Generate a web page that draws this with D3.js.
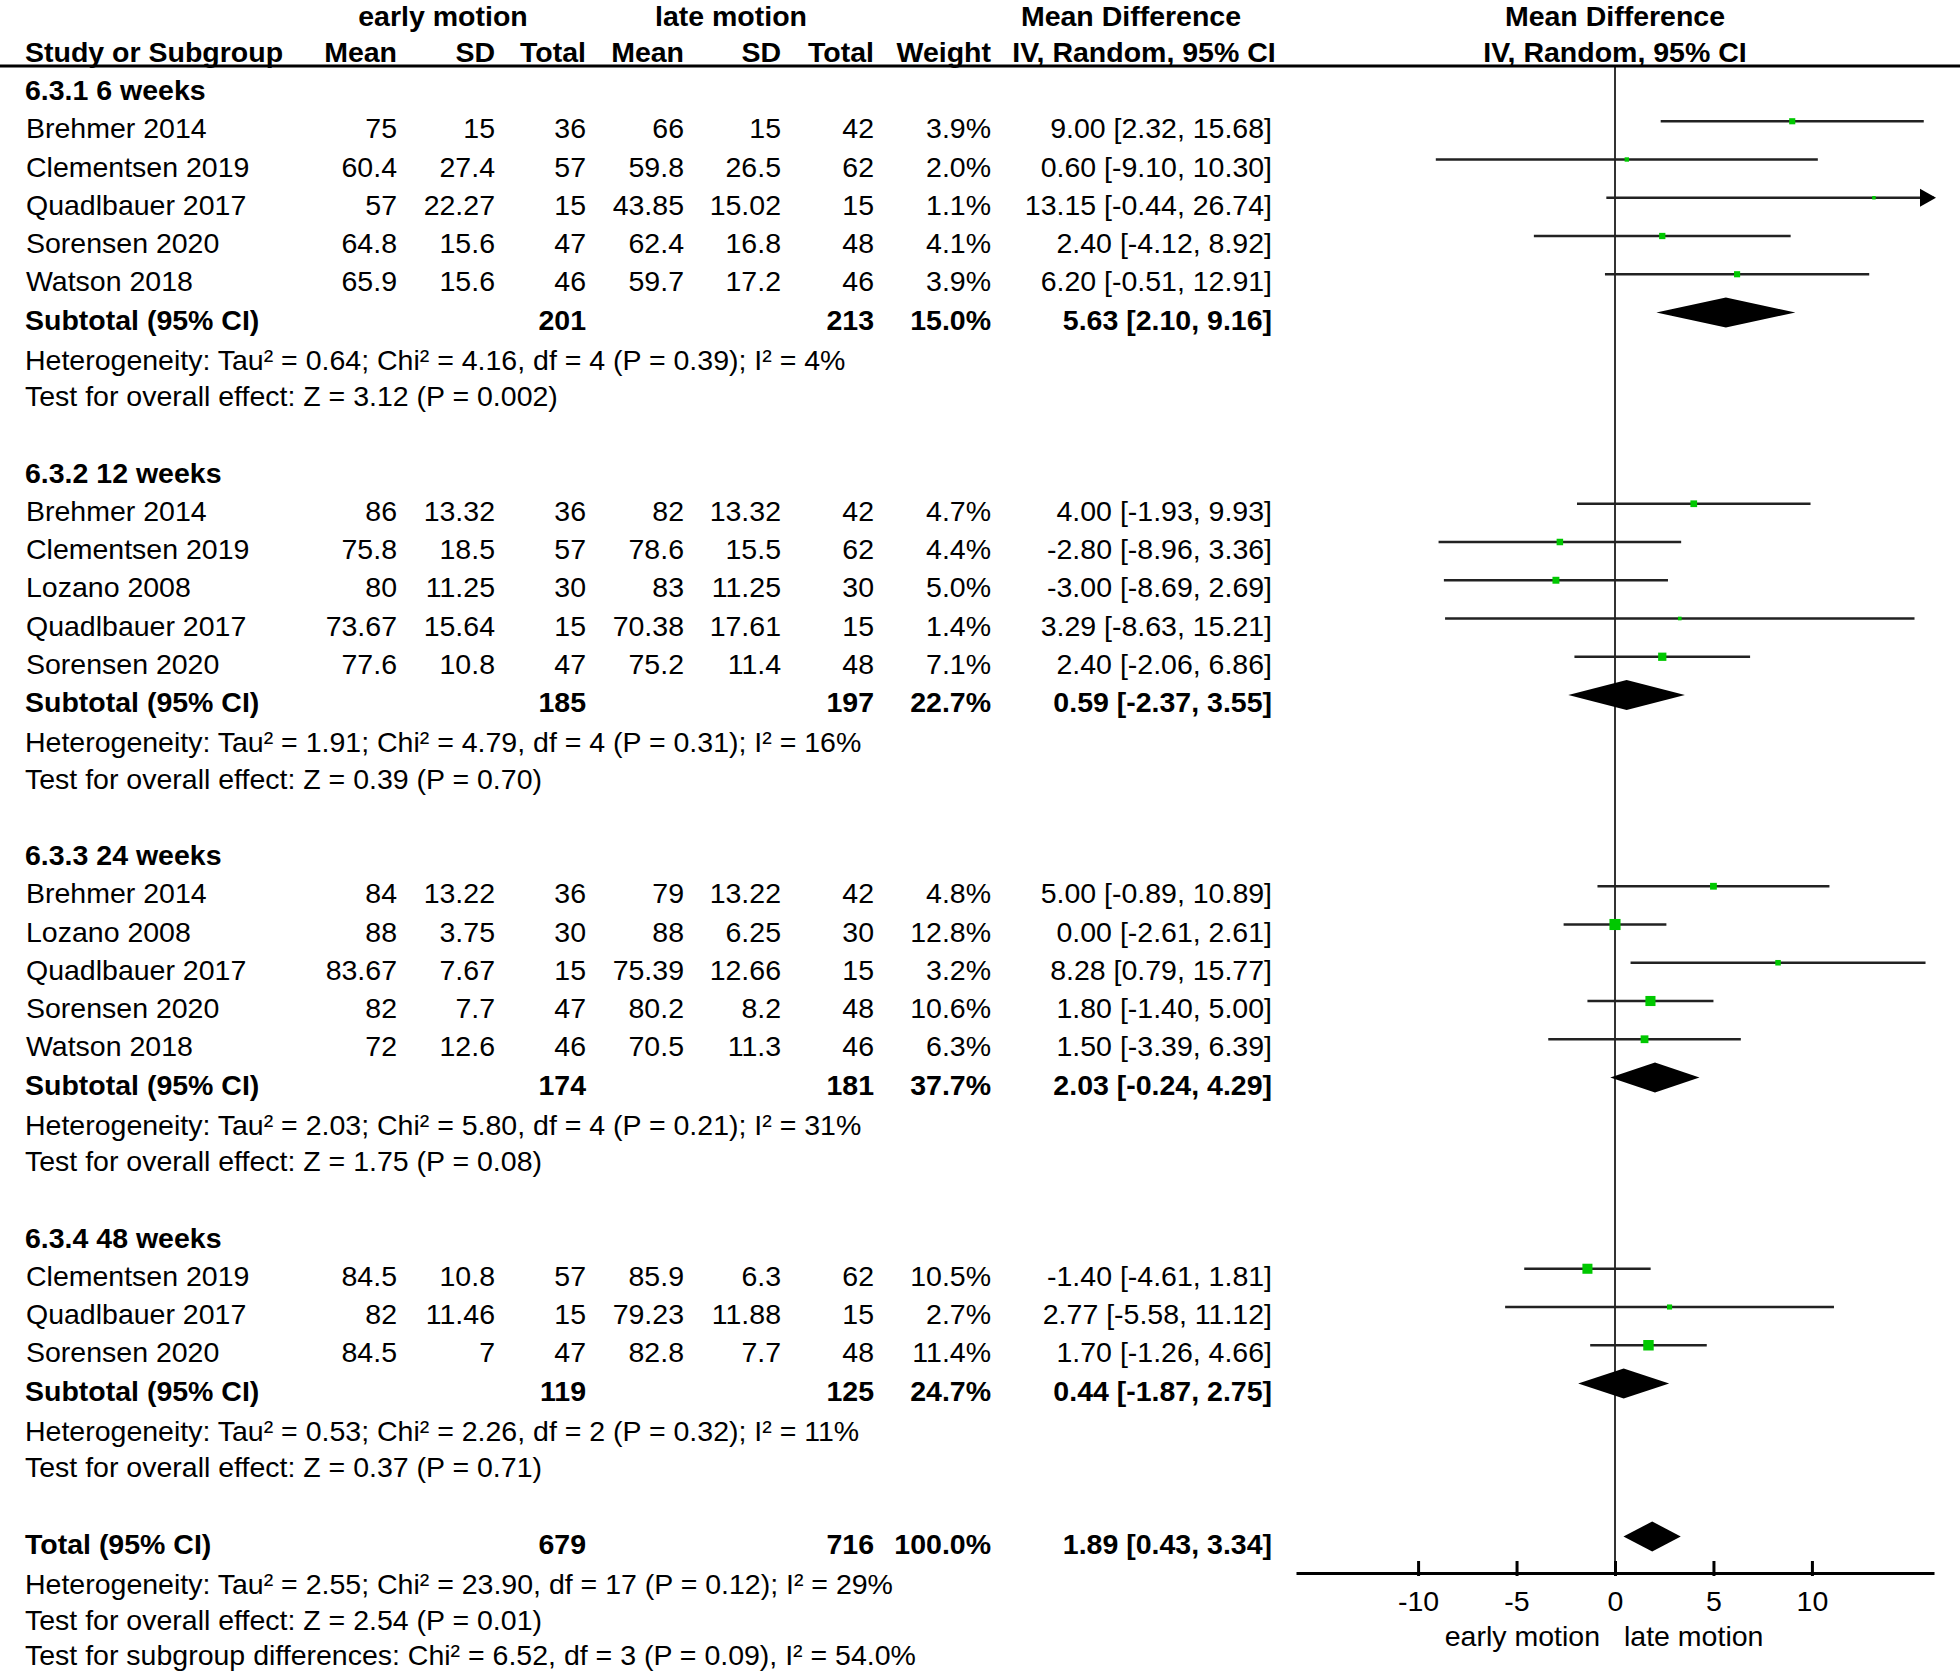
<!DOCTYPE html>
<html><head><meta charset="utf-8">
<script src="https://cdn.jsdelivr.net/npm/d3@7"></script>
<style>
html,body{margin:0;padding:0;background:#fff;}
svg text{font-family:"Liberation Sans",Arial,sans-serif;font-size:28.5px;fill:#000;}
</style></head>
<body>
<script>
// ---------- data ----------
const groupLabels = ["6.3.1 6 weeks","6.3.2 12 weeks","6.3.3 24 weeks","6.3.4 48 weeks"];
const studyGroup = [0,0,0,0,0, 1,1,1,1,1, 2,2,2,2,2, 3,3,3];
const studyNames = ["Brehmer 2014","Clementsen 2019","Quadlbauer 2017","Sorensen 2020","Watson 2018",
  "Brehmer 2014","Clementsen 2019","Lozano 2008","Quadlbauer 2017","Sorensen 2020",
  "Brehmer 2014","Lozano 2008","Quadlbauer 2017","Sorensen 2020","Watson 2018",
  "Clementsen 2019","Quadlbauer 2017","Sorensen 2020"];
const earlyMean = [75,60.4,57,64.8,65.9, 86,75.8,80,73.67,77.6, 84,88,83.67,82,72, 84.5,82,84.5];
const earlySD   = [15,27.4,22.27,15.6,15.6, 13.32,18.5,11.25,15.64,10.8, 13.22,3.75,7.67,7.7,12.6, 10.8,11.46,7];
const earlyN    = [36,57,15,47,46, 36,57,30,15,47, 36,30,15,47,46, 57,15,47];
const lateMean  = [66,59.8,43.85,62.4,59.7, 82,78.6,83,70.38,75.2, 79,88,75.39,80.2,70.5, 85.9,79.23,82.8];
const lateSD    = [15,26.5,15.02,16.8,17.2, 13.32,15.5,11.25,17.61,11.4, 13.22,6.25,12.66,8.2,11.3, 6.3,11.88,7.7];
const lateN     = [42,62,15,48,46, 42,62,30,15,48, 42,30,15,48,46, 62,15,48];
const weights   = [3.9,2.0,1.1,4.1,3.9, 4.7,4.4,5.0,1.4,7.1, 4.8,12.8,3.2,10.6,6.3, 10.5,2.7,11.4];
const meanDiff  = [9.00,0.60,13.15,2.40,6.20, 4.00,-2.80,-3.00,3.29,2.40, 5.00,0.00,8.28,1.80,1.50, -1.40,2.77,1.70];
const ciLow     = [2.32,-9.10,-0.44,-4.12,-0.51, -1.93,-8.96,-8.69,-8.63,-2.06, -0.89,-2.61,0.79,-1.40,-3.39, -4.61,-5.58,-1.26];
const ciHigh    = [15.68,10.30,26.74,8.92,12.91, 9.93,3.36,2.69,15.21,6.86, 10.89,2.61,15.77,5.00,6.39, 1.81,11.12,4.66];

const subEarlyN = [201,185,174,119];
const subLateN  = [213,197,181,125];
const subWeight = [15.0,22.7,37.7,24.7];
const subMD     = [5.63,0.59,2.03,0.44];
const subLow    = [2.10,-2.37,-0.24,-1.87];
const subHigh   = [9.16,3.55,4.29,2.75];
const subHet = [
  "Heterogeneity: Tau² = 0.64; Chi² = 4.16, df = 4 (P = 0.39); I² = 4%",
  "Heterogeneity: Tau² = 1.91; Chi² = 4.79, df = 4 (P = 0.31); I² = 16%",
  "Heterogeneity: Tau² = 2.03; Chi² = 5.80, df = 4 (P = 0.21); I² = 31%",
  "Heterogeneity: Tau² = 0.53; Chi² = 2.26, df = 2 (P = 0.32); I² = 11%"];
const subTest = [
  "Test for overall effect: Z = 3.12 (P = 0.002)",
  "Test for overall effect: Z = 0.39 (P = 0.70)",
  "Test for overall effect: Z = 1.75 (P = 0.08)",
  "Test for overall effect: Z = 0.37 (P = 0.71)"];

const totalEarlyN = 679, totalLateN = 716, totalWeight = 100.0;
const totalMD = 1.89, totalLow = 0.43, totalHigh = 3.34;
const totalNotes = [
  "Heterogeneity: Tau² = 2.55; Chi² = 23.90, df = 17 (P = 0.12); I² = 29%",
  "Test for overall effect: Z = 2.54 (P = 0.01)",
  "Test for subgroup differences: Chi² = 6.52, df = 3 (P = 0.09), I² = 54.0%"];

const axisTicks = [-10,-5,0,5,10];
const axisDomain = [-16.2,16.2];
const favourLeft = "early motion", favourRight = "late motion";

// ---------- layout ----------
const W = 1960, H = 1672;
const svg = d3.select("body").append("svg").attr("width",W).attr("height",H);

const loc = d3.formatLocale({decimal:".", thousands:",", grouping:[3], currency:["",""], minus:"-"});
const fmt2 = loc.format(".2f"), fmt1 = loc.format(".1f"), fmt0 = loc.format("d");

const rowY = d3.scaleLinear().domain([0,1]).range([90,128.25]);   // row centre
const x = d3.scaleLinear().domain(axisDomain).range([1296,1934]);
const col = {label:26, m1:397, sd1:495, n1:586, m2:684, sd2:781, n2:874, w:991, ci:1272};
const markOff = -7;
const ciText = (m,l,h)=> `${fmt2(m)} [${fmt2(l)}, ${fmt2(h)}]`;

function txt(xp, y, s, anchor="start", bold=false){
  svg.append("text").attr("x",xp).attr("y",y).attr("text-anchor",anchor)
    .attr("font-weight",bold?"bold":"normal").text(s);
}
const base = k => rowY(k)+10;

// header
const h1 = base(-2)+2;
txt(443, h1, "early motion", "middle", true);
txt(731, h1, "late motion", "middle", true);
txt(1131, h1, "Mean Difference", "middle", true);
txt(x(0), h1, "Mean Difference", "middle", true);
txt(col.label-1, base(-1), "Study or Subgroup", "start", true);
[["Mean",col.m1],["SD",col.sd1],["Total",col.n1],["Mean",col.m2],["SD",col.sd2],["Total",col.n2],["Weight",col.w]]
  .forEach(([s,xp])=>txt(xp, base(-1), s, "end", true));
txt(1144, base(-1), "IV, Random, 95% CI", "middle", true);
txt(x(0), base(-1), "IV, Random, 95% CI", "middle", true);

// rows
const rows = [];
let k = 0;
groupLabels.forEach((g,gi)=>{
  rows.push({type:"group", k:k++, gi});
  studyNames.forEach((n,i)=>{ if(studyGroup[i]===gi) rows.push({type:"study", k:k++, i}); });
  rows.push({type:"sub", k:k++, gi});
  rows.push({type:"het", k:k++, gi});
  rows.push({type:"test", k:k++, gi});
  k++;
});
rows.push({type:"total", k:k++});
totalNotes.forEach((t,j)=>rows.push({type:"note", k:k++, j}));

const axisY = 1573;
// zero line
svg.append("line").attr("x1",x(0)).attr("x2",x(0)).attr("y1",66).attr("y2",axisY)
  .attr("stroke","#333").attr("stroke-width",2);
// header rule
svg.append("line").attr("x1",0).attr("x2",W).attr("y1",66).attr("y2",66)
  .attr("stroke","#000").attr("stroke-width",3);

function diamond(m,l,h,cy){
  const hh = 15;
  svg.append("path").attr("d",`M${x(l)},${cy}L${x(m)},${cy-hh}L${x(h)},${cy}L${x(m)},${cy+hh}Z`)
    .attr("fill","#000");
}

rows.forEach(r=>{
  const b = base(r.k), cy = rowY(r.k)+markOff;
  if(r.type==="group"){ txt(col.label-1, b, groupLabels[r.gi], "start", true); }
  else if(r.type==="study"){
    const i=r.i;
    txt(col.label, b, studyNames[i]);
    txt(col.m1,b,String(earlyMean[i]),"end"); txt(col.sd1,b,String(earlySD[i]),"end"); txt(col.n1,b,String(earlyN[i]),"end");
    txt(col.m2,b,String(lateMean[i]),"end"); txt(col.sd2,b,String(lateSD[i]),"end"); txt(col.n2,b,String(lateN[i]),"end");
    txt(col.w,b,fmt1(weights[i])+"%","end");
    txt(col.ci,b,ciText(meanDiff[i],ciLow[i],ciHigh[i]),"end");
    const lo = Math.max(ciLow[i],axisDomain[0]), hi = Math.min(ciHigh[i],axisDomain[1]);
    svg.append("line").attr("x1",x(lo)).attr("x2",x(hi)).attr("y1",cy).attr("y2",cy)
      .attr("stroke","#222").attr("stroke-width",2.5);
    if(ciHigh[i]>axisDomain[1]){
      const xe = x(axisDomain[1]);
      svg.append("path").attr("d",`M${xe-14},${cy-9}L${xe+2},${cy}L${xe-14},${cy+9}Z`).attr("fill","#000");
    }
    const s = Math.max(3.5, 3.1*Math.sqrt(weights[i]));
    svg.append("rect").attr("x",x(meanDiff[i])-s/2).attr("y",cy-s/2).attr("width",s).attr("height",s)
      .attr("fill","#00c800");
  }
  else if(r.type==="sub"){
    const g=r.gi;
    txt(col.label-1,b,"Subtotal (95% CI)","start",true);
    txt(col.n1,b,String(subEarlyN[g]),"end",true);
    txt(col.n2,b,String(subLateN[g]),"end",true);
    txt(col.w,b,fmt1(subWeight[g])+"%","end",true);
    txt(col.ci,b,ciText(subMD[g],subLow[g],subHigh[g]),"end",true);
    diamond(subMD[g],subLow[g],subHigh[g],cy);
  }
  else if(r.type==="het"){ txt(col.label-1,b+2,subHet[r.gi]); }
  else if(r.type==="test"){ txt(col.label-1,b,subTest[r.gi]); }
  else if(r.type==="total"){
    txt(col.label-1,b,"Total (95% CI)","start",true);
    txt(col.n1,b,String(totalEarlyN),"end",true);
    txt(col.n2,b,String(totalLateN),"end",true);
    txt(col.w,b,fmt1(totalWeight)+"%","end",true);
    txt(col.ci,b,ciText(totalMD,totalLow,totalHigh),"end",true);
    diamond(totalMD,totalLow,totalHigh,cy);
  }
  else if(r.type==="note"){ txt(col.label-1, Math.min(b+(r.j===0?2:0), H-7), totalNotes[r.j]); }
});

// axis
const ax = svg.append("g").attr("transform",`translate(0,${axisY})`)
  .call(d3.axisBottom(x).tickValues(axisTicks).tickFormat(fmt0).tickSizeInner(-12).tickSizeOuter(0).tickPadding(18));
ax.attr("font-size",null).attr("font-family",null);
ax.selectAll("path.domain").attr("stroke","#000").attr("stroke-width",3);
ax.selectAll(".tick line").attr("stroke","#000").attr("stroke-width",3).attr("y2",-12).attr("y1",3);
ax.selectAll(".tick text").style("font-size","28.5px").attr("fill","#000");
txt(x(0)-15, 1646, favourLeft, "end");
txt(x(0)+9, 1646, favourRight, "start");
</script>
</body></html>
